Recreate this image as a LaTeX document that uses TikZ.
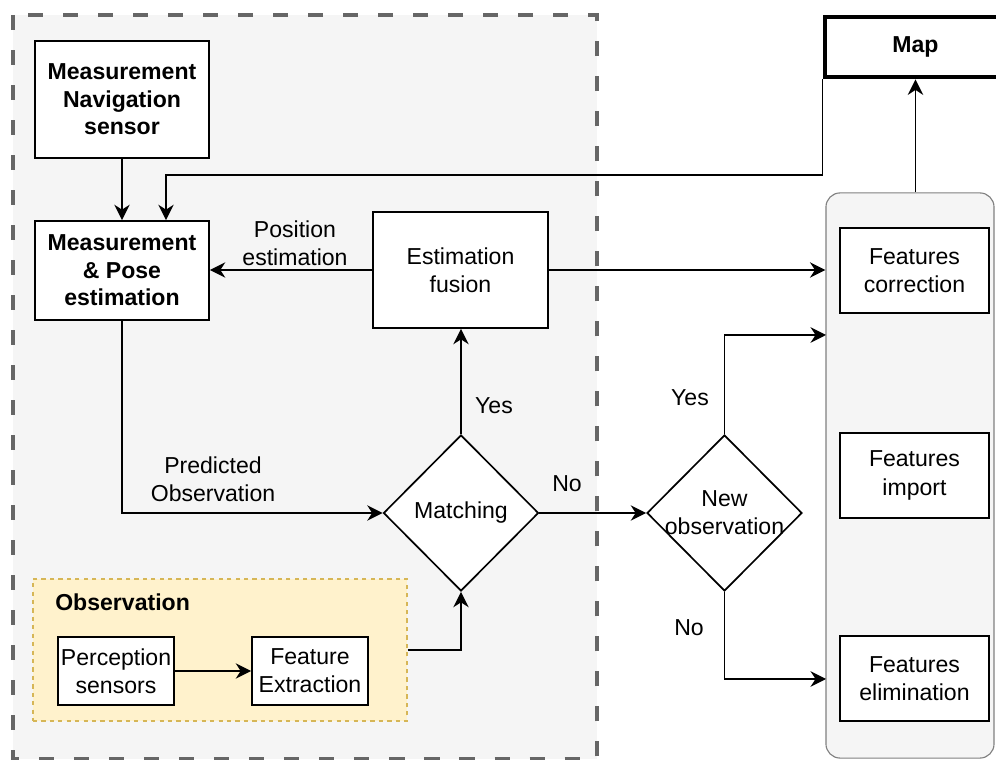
\documentclass[tikz,border=0pt]{standalone}
\usepackage{fontspec}
\setmainfont{Liberation Sans}
\usepackage{xcolor}
\usepackage{tikz}
\usetikzlibrary{arrows.meta,positioning,shapes.geometric}
\definecolor{panelgrey}{HTML}{F5F5F5}
\definecolor{dashgrey}{HTML}{666666}
\definecolor{obsfill}{HTML}{FFF2CC}
\definecolor{obsdraw}{HTML}{D6B656}

\begin{document}
\begin{tikzpicture}[x=0.025cm,y=-0.025cm,
        font=\fontsize{16.4}{20}\selectfont,
        block/.style={draw,line width=1.2pt,fill=white,align=center,inner sep=0pt},
        boldblock/.style={block,font=\fontsize{16.4}{19.6}\selectfont\bfseries},
        featbox/.style={block,minimum width=3.725cm,minimum height=2.125cm},
        decision/.style={diamond,draw,line width=1.2pt,fill=white,inner sep=0pt,minimum width=3.875cm,minimum height=3.9cm},
        link/.style={draw,line width=1.1pt,-{Stealth[length=11pt,width=11pt]}}]
        \useasboundingbox (0,0) rectangle (996,760);
        % grey dashed region and the feature panel
        \path [fill=panelgrey, draw=dashgrey, line width=3.5pt, dash pattern=on 10.7pt off 14.2pt] (13,15) rectangle (597,759);
        \node (panel) at (910,475.5) [draw=gray, fill=panelgrey, rounded corners=10pt, line width=0.8pt, minimum width=4.2cm, minimum height=14.125cm] {};
        \node (obs) at (220,650) [draw=obsdraw, fill=obsfill, dashed, line width=0.8pt, minimum width=9.35cm, minimum height=3.55cm] {};
        \node (obstitle) at (55,602) [anchor=west, font=\fontsize{16.4}{20}\selectfont\bfseries, inner sep=0pt] {Observation};
        % boxes
        \node (map) at (915.5,47) [boldblock, line width=3.5pt, minimum width=4.525cm, minimum height=1.5cm] {Map};
        \node (nav) at (122,99.5) [boldblock, minimum width=4.35cm, minimum height=2.925cm] {Measurement\\Navigation\\sensor};
        \node (pose) at (122,270.5) [boldblock, minimum width=4.35cm, minimum height=2.475cm] {Measurement\\\& Pose\\estimation};
        \node (fusion) at (460.5,270) [block, minimum width=4.375cm, minimum height=2.9cm] {Estimation\\fusion};
        \node (perc) at (116,671) [block, minimum width=2.9cm, minimum height=1.7cm] {Perception\\sensors};
        \node (feat) at (310,671) [block, minimum width=2.9cm, minimum height=1.7cm] {Feature\\Extraction};
        \node (corr) at (914.5,270.5) [featbox] {Features\\correction};
        \node (import) at (914.5,475.5) [featbox] {Features\\import};
        \node (elim) at (914.5,678.5) [featbox] {Features\\elimination};
        \node (match) at (461,513) [decision, label={center:Matching}] {};
        \node (newobs) at (724.5,513) [decision, label={[align=center]center:New\\observation}] {};
        % labels
        \node (lpos) at (295,243) [align=center] {Position\\estimation};
        \node (lpred) at (213,479) [align=center] {Predicted\\Observation};
        \node (lyesa) at (494,406) {Yes};
        \node (lnoa) at (567,484) {No};
        \node (lyesb) at (690,398) {Yes};
        \node (lnob) at (689,628) {No};
        \coordinate (fb) at (166,175);
        \coordinate (inyes) at (826,335);
        \coordinate (inno) at (826,679);
        % connectors
        \path [link] (nav) -- (pose);
        \path [link] (map.south west) |- (fb) -- (fb |- pose.north);
        \path [link] (fusion.west) -- (fusion.west -| pose.east);
        \path [link] (fusion.east) -- (fusion.east -| panel.west);
        \path [link] (pose.south) |- (match.west);
        \path [link] (match.north) -- (match.north |- fusion.south);
        \path [link] (obs.east) -| (match.south);
        \path [link] (perc) -- (feat);
        \path [link] (match.east) -- (newobs.west);
        \path [link] (newobs.north) |- (inyes);
        \path [link] (newobs.south) |- (inno);
        \path [link] (map.south |- panel.north) -- (map.south);
    \end{tikzpicture}
\end{document}
